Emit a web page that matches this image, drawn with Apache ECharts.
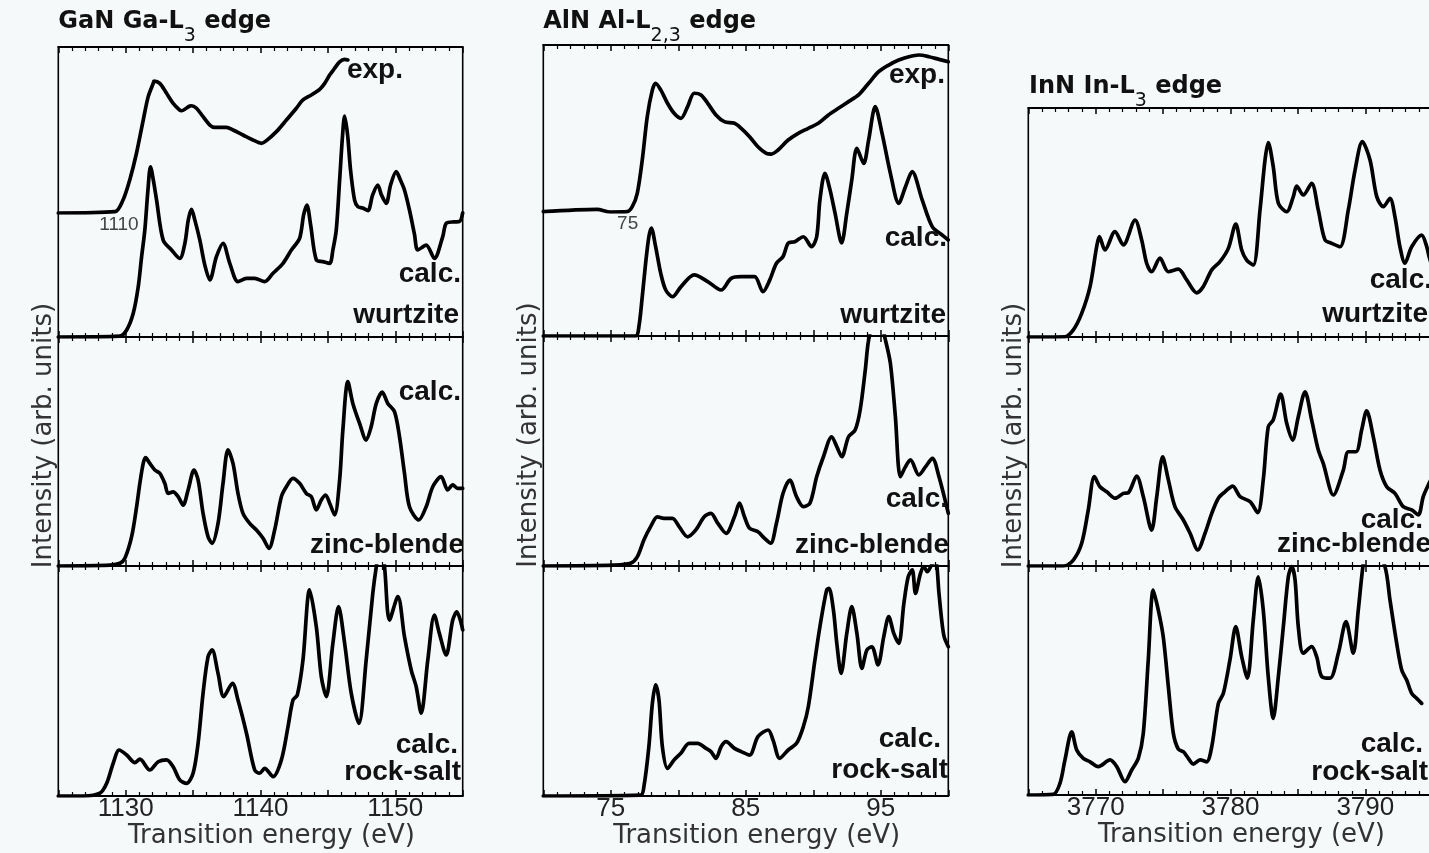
<!DOCTYPE html>
<html>
<head>
<meta charset="utf-8">
<script src="https://cdn.jsdelivr.net/npm/echarts@6/dist/echarts.min.js"></script>
<style>
html,body{margin:0;padding:0;background:#f6f9fa;}
#c{width:1429px;height:853px;}
</style>
</head>
<body>
<div id="c"></div>
<script>
// ---------- DATA : [energy (eV), intensity (arb. units, 0-100 per panel)] ----------
const ganExp = [[1105.5,0],[1109.7,0.8],[1110.3,7.8],[1110.8,19.9],[1111.3,36],[1111.8,56],[1112.17,70.1],[1112.54,78.1],[1112.6,79.5],[1113.03,78.1],[1113.53,72.1],[1114.02,66.1],[1114.51,62],[1114.64,61.6],[1115.26,64.5],[1115.38,64.6],[1115.75,63.1],[1116.24,58],[1116.74,53],[1117.11,51.6],[1117.97,51.6],[1118.46,50],[1119.2,47],[1119.94,44],[1120.57,42],[1120.94,43.6],[1121.68,49],[1122.42,56],[1123.16,63.1],[1123.65,68.1],[1124.27,71.1],[1124.89,74.5],[1125.26,78.1],[1125.63,83.1],[1126,87.2],[1126.37,91.1],[1126.74,92.6],[1126.98,92.2]];
const ganWurtzite = [[1125,0],[1129.57,0.3],[1130.07,2.4],[1130.56,8.2],[1130.93,17.3],[1131.18,27.7],[1131.42,36.9],[1131.65,50.7],[1131.84,58.7],[1132.05,54.1],[1132.29,47.2],[1132.78,33.4],[1133.4,30],[1134.01,27.1],[1134.39,32.3],[1134.64,40.3],[1134.88,44],[1135.13,40.3],[1135.5,33.4],[1135.87,24.8],[1136.24,19.7],[1136.73,27.7],[1137.22,32.3],[1137.72,25.4],[1138.33,19.1],[1138.96,20.2],[1139.57,20.2],[1140.31,19.1],[1140.93,22],[1141.67,25.4],[1142.29,30],[1142.9,34],[1143.2,42.1],[1143.44,45.5],[1143.72,38.6],[1144.14,26.6],[1144.63,26],[1145.13,25.4],[1145.37,30],[1145.62,36.9],[1145.87,54.1],[1146.09,69.7],[1146.24,76.2],[1146.46,69.7],[1146.68,57.6],[1146.98,47.2],[1147.23,44.9],[1147.58,44.5],[1147.97,43.6],[1148.32,49],[1148.7,52.4],[1148.97,49],[1149.33,46.1],[1149.65,52.4],[1150.07,57],[1150.38,54.1],[1150.68,50.7],[1151.05,43.8],[1151.42,35.5],[1151.67,30],[1152.29,31.7],[1152.9,27.1],[1153.52,34.6],[1153.79,39.3],[1154.38,39.7],[1154.76,39.8],[1155,42.8]];
const ganZincBlende = [[1125,0],[1128.83,0.4],[1129.57,1.2],[1129.94,3.4],[1130.44,12.8],[1130.81,25.9],[1131.05,36.1],[1131.3,44.8],[1131.47,47.3],[1131.79,44.8],[1132.16,41.9],[1132.53,40.5],[1132.9,36.1],[1133.15,31.7],[1133.52,32.4],[1133.89,30.3],[1134.26,26.6],[1134.63,33.2],[1135.07,41.9],[1135.37,37.6],[1135.74,23],[1136.11,12.8],[1136.41,9.9],[1136.85,18.6],[1137.22,36.1],[1137.59,50.7],[1137.96,44.8],[1138.33,31.7],[1138.7,23],[1139.2,18.6],[1139.7,15.7],[1140.19,12.1],[1140.63,7.7],[1141.05,15.7],[1141.55,30.3],[1141.92,34.6],[1142.41,38.3],[1142.9,36.1],[1143.4,31.7],[1143.77,30.3],[1144.14,24.5],[1144.51,28.8],[1144.83,31],[1145.13,27.4],[1145.5,22.3],[1145.87,37.6],[1146.11,59.4],[1146.48,80.5],[1146.85,71],[1147.35,62.3],[1147.84,55],[1148.21,60.8],[1148.59,71],[1149.03,75.9],[1149.44,71],[1149.94,67.4],[1150.31,56.5],[1150.68,40.5],[1151.05,25.9],[1151.74,20.1],[1152.29,25.9],[1152.78,34.6],[1153.4,39],[1153.89,33.2],[1154.26,35.4],[1154.63,33.9],[1155,33.9]];
const ganRockSalt = [[1125,0],[1126.85,0],[1128.09,1.2],[1128.59,5.5],[1129.07,14.2],[1129.52,20],[1130.07,17.8],[1130.68,14.5],[1131.05,16],[1131.79,11.3],[1132.41,14.9],[1133.03,15.7],[1133.52,12.7],[1134.01,7],[1134.51,5.5],[1135,9.9],[1135.37,22.9],[1135.74,44.7],[1136.11,60.6],[1136.41,63.5],[1136.85,53.3],[1137.27,43.2],[1137.92,49],[1138.33,41.7],[1138.96,27.3],[1139.57,11.3],[1139.94,9.9],[1140.31,12],[1140.93,8.4],[1141.55,15.7],[1142.04,30.1],[1142.41,41.7],[1142.73,43.9],[1143.15,59.1],[1143.64,89.6],[1144.14,73.6],[1144.51,51.9],[1144.88,43.2],[1145.37,66.4],[1145.79,82.3],[1146.24,66.4],[1146.73,44.7],[1147.3,31.6],[1147.84,59.1],[1148.33,88.1],[1148.59,99.7],[1148.9,110],[1149.2,99.7],[1149.57,76.5],[1150.19,86.7],[1150.68,69.3],[1151.18,54.8],[1151.55,47.5],[1151.92,36],[1152.41,59.1],[1152.9,78.7],[1153.27,70.7],[1153.77,61.3],[1154.26,76.5],[1154.56,80.1],[1155,72.2]];

const alnExp = [[68.75,0.2],[72.73,1.6],[73.72,0],[74.96,0.2],[75.34,3.2],[75.71,11.2],[76.08,31.1],[76.45,57.1],[76.83,73.1],[77.07,77.1],[77.45,73.1],[77.95,65.1],[78.44,59.1],[78.94,56.1],[79.44,63.1],[79.93,71.1],[80.43,70.1],[80.93,65.1],[81.54,58.1],[82.16,54.1],[82.91,53.1],[83.41,50.1],[84.03,45.1],[84.65,39.1],[85.27,35.1],[85.64,34.7],[86.14,37.1],[86.89,43.1],[87.63,47.1],[88.38,50.1],[89.12,53.1],[89.87,58.1],[90.61,62.1],[91.36,66.1],[92.1,70.1],[92.85,77.1],[93.59,84],[94.34,88],[95.08,91],[95.83,93],[96.57,94],[97.32,93],[98.06,91.4],[98.75,90]];
const alnWurtzite = [[70,0],[76.83,0],[77.08,3.2],[77.33,13.5],[77.58,25],[77.82,34.1],[78,37.1],[78.32,30.7],[78.7,21.5],[79.07,15.8],[79.57,13.5],[80.19,16.9],[81.18,21],[82.18,18.7],[83.17,15.8],[83.91,19.8],[84.66,20.4],[85.65,20.4],[86.27,15.2],[86.77,19.2],[87.27,25],[87.76,27.3],[88.14,31.9],[88.63,32.4],[89.26,34.1],[89.87,30.7],[90.25,34.1],[90.49,46.7],[90.86,55.9],[91.24,50.2],[91.61,42.2],[92.1,32],[92.48,42.2],[92.85,53.6],[93.23,64.5],[93.73,59.3],[94.1,67.4],[94.59,78.8],[95.09,69.7],[95.71,55.9],[96.33,45.6],[96.83,51.3],[97.32,56.5],[98.07,46.7],[98.81,37.6],[99.6,34.5],[100,33]];
const alnZincBlende = [[70,0],[75.22,0.4],[76.46,1.2],[76.96,4],[77.45,11.3],[77.95,17.1],[78.45,21.4],[78.94,20.7],[79.57,20.7],[80.06,17.1],[80.69,12.7],[81.3,15.7],[81.92,21.4],[82.42,22.9],[82.92,18.6],[83.54,14.2],[84.16,21.4],[84.53,27.3],[84.9,21.4],[85.28,16.4],[85.9,14.9],[86.39,12],[86.84,9.9],[87.27,18.6],[87.76,31.6],[88.26,37.4],[88.76,30.1],[89.26,25.8],[89.75,27.3],[90.25,38.8],[90.75,47.5],[91.36,56.2],[91.74,51.9],[92.11,47.5],[92.61,56.2],[93.1,59.1],[93.47,67.8],[93.85,85.2],[94.1,98.3],[94.72,112],[95.34,98.3],[95.71,88.1],[96.08,64.9],[96.45,38.8],[96.83,43.2],[97.2,46.1],[97.82,39.6],[98.32,43.2],[98.82,46.8],[99.31,38.8],[100,22.9]];
const alnRockSalt = [[70,0],[77.21,0.4],[77.45,4],[77.82,21.4],[78.08,40.3],[78.32,48.3],[78.57,41.7],[78.82,21.4],[79.2,12],[79.69,15.7],[80.19,18.6],[80.8,22.9],[81.43,22.9],[82.05,20.7],[82.42,19.3],[82.79,16.4],[83.17,21.4],[83.54,23.6],[84.16,20.7],[84.66,19.3],[85.28,17.8],[85.9,25.8],[86.65,28.7],[87.02,24.3],[87.51,16.4],[88.14,20],[88.76,22.9],[89.26,30.1],[89.63,38.8],[90.12,59.1],[90.49,73.6],[90.99,89.6],[91.16,90.3],[91.49,80.9],[91.74,66.4],[92.06,53.3],[92.48,70.7],[92.85,82.3],[93.23,70.7],[93.6,55.5],[93.97,63.5],[94.34,64.9],[94.79,57],[95.22,69.3],[95.59,78],[95.96,70.7],[96.33,66.4],[96.71,83.8],[97.03,95.3],[97.33,98.3],[97.57,88.1],[97.94,96.8],[98.2,99.7],[98.44,97.5],[98.82,101],[99.06,102],[99.31,88.1],[99.51,76.5],[99.69,69.3],[100,64.9]];

const innWurtzite = [[3765,0],[3767.72,0.1],[3768.34,3.1],[3768.96,10.3],[3769.58,22],[3770.07,39.4],[3770.27,43.8],[3770.69,38],[3771.43,46],[3772.05,40.2],[3772.92,51.1],[3773.41,42.4],[3773.78,32.2],[3774.15,28.5],[3774.77,34.4],[3775.39,28.5],[3776.13,29.6],[3776.75,24.9],[3777.49,19.3],[3777.98,22],[3778.61,29.3],[3779.22,32.9],[3779.84,38.7],[3780.39,49.3],[3780.83,38],[3781.2,33.6],[3781.69,31.4],[3782.19,55.5],[3782.56,77.3],[3782.8,84.9],[3783.17,74.4],[3783.55,58.4],[3784.17,54.7],[3784.66,61.3],[3784.91,65.9],[3785.4,62],[3786.02,67.1],[3786.51,55.5],[3787.01,42.4],[3787.51,40.9],[3788.12,39.4],[3788.74,55.5],[3789.24,72.9],[3789.78,85.3],[3790.35,77.3],[3790.85,61.3],[3791.34,56.9],[3791.83,60.6],[3792.2,52.5],[3792.57,39.4],[3792.94,32.2],[3793.44,39.4],[3794.18,44.5],[3794.56,39.4],[3794.73,35.1],[3795,30]];
const innZincBlende = [[3765,0],[3767.6,0],[3768.34,2.6],[3768.96,9.9],[3769.45,24.5],[3769.9,39],[3770.32,34.6],[3770.82,32.4],[3771.43,29.6],[3772.05,31.7],[3772.42,32],[3773.04,39.3],[3773.53,30.3],[3774.15,15.7],[3774.53,30.3],[3774.97,47.7],[3775.39,37.6],[3775.88,25.9],[3776.5,20.1],[3777,14.3],[3777.57,7],[3778.11,14.3],[3778.61,23],[3779.1,29.6],[3779.59,32.4],[3780.16,34.9],[3780.71,30.3],[3781.45,28.1],[3782.02,23.3],[3782.43,37.6],[3782.8,60.8],[3783.17,63.8],[3783.72,75.1],[3784.17,62.3],[3784.61,55],[3785.03,65.2],[3785.53,76.1],[3786.02,63.8],[3786.51,50.7],[3786.88,44.8],[3787.63,31],[3788.37,41.9],[3788.74,49.9],[3789.31,49.9],[3789.73,59.4],[3790.1,67.8],[3790.59,56.5],[3791.09,41.9],[3791.59,34.6],[3792.2,31.7],[3792.82,25.9],[3793.44,24.5],[3793.93,22.3],[3794.3,30.3],[3794.73,36.1],[3795,39]];
const innRockSalt = [[3765,0],[3766.85,0.3],[3767.35,5.1],[3767.72,15.3],[3768.22,27.6],[3768.59,19.7],[3769.08,16],[3769.58,14.5],[3770.19,12.4],[3771.06,15.3],[3771.56,12.4],[3772.17,5.8],[3772.67,10.9],[3773.16,16],[3773.53,26.9],[3773.9,59],[3774.27,89.5],[3774.64,80.8],[3775.01,69.1],[3775.39,47.3],[3775.76,26.9],[3776.13,20],[3776.5,18.9],[3776.87,16],[3777.24,13.5],[3777.74,15.3],[3778.23,14.5],[3778.61,21.1],[3779.1,40],[3779.47,44.4],[3779.96,59],[3780.39,73.5],[3780.83,60.4],[3781.25,51],[3781.69,76.4],[3782.06,95.3],[3782.43,80.8],[3782.8,51.7],[3783.17,33.5],[3783.55,51.7],[3783.92,73.5],[3784.29,95.3],[3784.54,99.7],[3784.79,93.9],[3785.03,73.5],[3785.4,61.9],[3786.02,64.8],[3786.39,60.4],[3786.77,51.7],[3787.38,51],[3788,61.9],[3788.57,75.7],[3789.11,61.9],[3789.48,80.8],[3789.85,101],[3790.3,115],[3791.46,99.7],[3791.83,85.2],[3792.33,66.2],[3792.7,54.6],[3793.07,50.2],[3793.44,44.4],[3793.81,42.2],[3794.18,40]];

// ---------- text ----------
const titles = [
  {main:'GaN Ga-L', sub:'3', tail:' edge'},
  {main:'AlN Al-L', sub:'2,3', tail:' edge'},
  {main:'InN In-L', sub:'3', tail:' edge'}
];
const panelLabels = [
  ['exp.','calc.','wurtzite','calc.','zinc-blende','calc.','rock-salt'],
  ['exp.','calc.','wurtzite','calc.','zinc-blende','calc.','rock-salt'],
  ['calc.','wurtzite','calc.','zinc-blende','calc.','rock-salt']
];
const xName = 'Transition energy (eV)';
const yName = 'Intensity (arb. units)';

// ---------- layout (positions only) ----------
const COLS = [
  {left:58.3, width:404.4, min:1125, max:1155, lab:0, rows:[[47,290],[337,229],[566,230]], title:[58.3,10],
   labelPos:[[403,70],[461,274],[459,315],[461,392],[464,545],[458,745],[461,772]]},
  {left:543.3, width:405, min:70, max:100, lab:5, rows:[[45,291],[336,230],[566,230]], title:[543.3,10],
   labelPos:[[945,75],[947,238],[946,315],[948,499],[949,545],[941,739],[948,770]]},
  {left:1028.3, width:404.4, min:3765, max:3795, lab:0, rows:[[108,229],[337,229],[566,229]], title:[1029,75],
   labelPos:[[1432,280],[1428,314],[1423,520],[1431,544],[1423,744],[1428,772]]}
];
const CURVES = [[ganWurtzite, ganZincBlende, ganRockSalt],[alnWurtzite, alnZincBlende, alnRockSalt],[innWurtzite, innZincBlende, innRockSalt]];
const EXPS = [
  {col:0, top:47, height:166, min:1105.5, max:1135.5, label:1110, data:ganExp},
  {col:1, top:45, height:167, min:68.75, max:98.75, label:75, data:alnExp}
];

const grid = [], xAxis = [], yAxis = [], series = [], graphic = [];
const TXT = '#333';
function lineSeries(xi, yi, data){
  return {type:'line', xAxisIndex:xi, yAxisIndex:yi, data:data, showSymbol:false, symbol:'none',
    smooth:0.3, clip:true, silent:true, lineStyle:{color:'#000', width:3.7, join:'round', cap:'round'}};
}
function xAx(gi, c, pos, withLabel){
  const a = {gridIndex:gi, type:'value', position:pos, min:c.min, max:c.max, interval:5,
    axisLine:{show:true, onZero:false, lineStyle:{color:'#000', width:2}},
    axisTick:{show:true, inside:true, length:6, lineStyle:{color:'#000', width:1.5}},
    minorTick:{show:true, splitNumber:5, length:4, lineStyle:{color:'#000', width:1.2}},
    splitLine:{show:false}, minorSplitLine:{show:false},
    axisLabel:{show:false}};
  if (withLabel){
    a.axisLabel = {show:true, margin:0, fontFamily:'Liberation Sans', fontSize:26, color:'#222',
      formatter: v => (Math.round(v) % 10 === c.lab ? String(v) : '')};
    a.name = xName; a.nameLocation = 'middle'; a.nameGap = 23;
    a.nameTextStyle = {fontFamily:'DejaVu Sans', fontSize:26, color:TXT, padding:[0,0,0,22]};
  }
  return a;
}

COLS.forEach((c, ci) => {
  c.rows.forEach((r, ri) => {
    const gi = grid.length;
    grid.push({left:c.left, top:r[0], width:c.width, height:r[1], show:true, borderColor:'#000', borderWidth:1.6,
      backgroundColor:'rgba(0,0,0,0)', containLabel:false, outerBoundsMode:'none'});
    const xi = xAxis.length;
    xAxis.push(xAx(gi, c, 'bottom', ri === 2));
    xAxis.push(xAx(gi, c, 'top', false));
    const yi = yAxis.length;
    const y = {gridIndex:gi, type:'value', min:0, max:100, axisLine:{show:false}, axisTick:{show:false},
      axisLabel:{show:false}, splitLine:{show:false}};
    if (ri === 1){
      y.name = yName; y.nameLocation = 'middle'; y.nameRotate = 90; y.nameGap = 1;
      y.nameTextStyle = {fontFamily:'DejaVu Sans', fontSize:26, color:TXT, padding:[0,0,0,32]};
    }
    yAxis.push(y);
    series.push(lineSeries(xi, yi, CURVES[ci][ri]));
  });
  // title with subscript
  const t = titles[ci];
  graphic.push({type:'text', x:c.title[0], y:c.title[1], silent:true, z:10,
    style:{text:'{m|' + t.main + '}{s|' + t.sub + '}{m|' + t.tail + '}', align:'left', verticalAlign:'top',
      rich:{m:{fontFamily:'DejaVu Sans', fontWeight:'bold', fontSize:24, lineHeight:24, verticalAlign:'top', fill:'#111'},
            s:{fontFamily:'DejaVu Sans', fontSize:19, lineHeight:19, verticalAlign:'top', padding:[17,0,0,0], fill:'#111'}}}});
  panelLabels[ci].forEach((txt, k) => {
    const p = c.labelPos[k];
    graphic.push({type:'text', x:p[0], y:p[1], silent:true, z:10,
      style:{text:txt, font:'bold 28px "Liberation Sans"', fill:'#111', align:'right', verticalAlign:'middle'}});
  });
});

EXPS.forEach(e => {
  const c = COLS[e.col];
  const gi = grid.length;
  grid.push({left:c.left, top:e.top, width:c.width, height:e.height, show:false, containLabel:false, outerBoundsMode:'none'});
  const xi = xAxis.length;
  xAxis.push({gridIndex:gi, type:'value', position:'bottom', min:e.min, max:e.max,
    axisLine:{show:false}, axisTick:{show:false}, splitLine:{show:false},
    axisLabel:{show:true, customValues:[e.label], margin:2, fontFamily:'Liberation Sans', fontSize:19, color:'#444',
      formatter: v => (v === e.label ? String(e.label) : '')}});
  const yi = yAxis.length;
  yAxis.push({gridIndex:gi, type:'value', min:0, max:100, show:false});
  series.push(lineSeries(xi, yi, e.data));
});

const chart = echarts.init(document.getElementById('c'), null, {renderer:'canvas'});
chart.setOption({
  backgroundColor:'#f6f9fa',
  animation:false,
  textStyle:{fontFamily:'Liberation Sans'},
  grid:grid, xAxis:xAxis, yAxis:yAxis, series:series, graphic:graphic
});
</script>
</body>
</html>
